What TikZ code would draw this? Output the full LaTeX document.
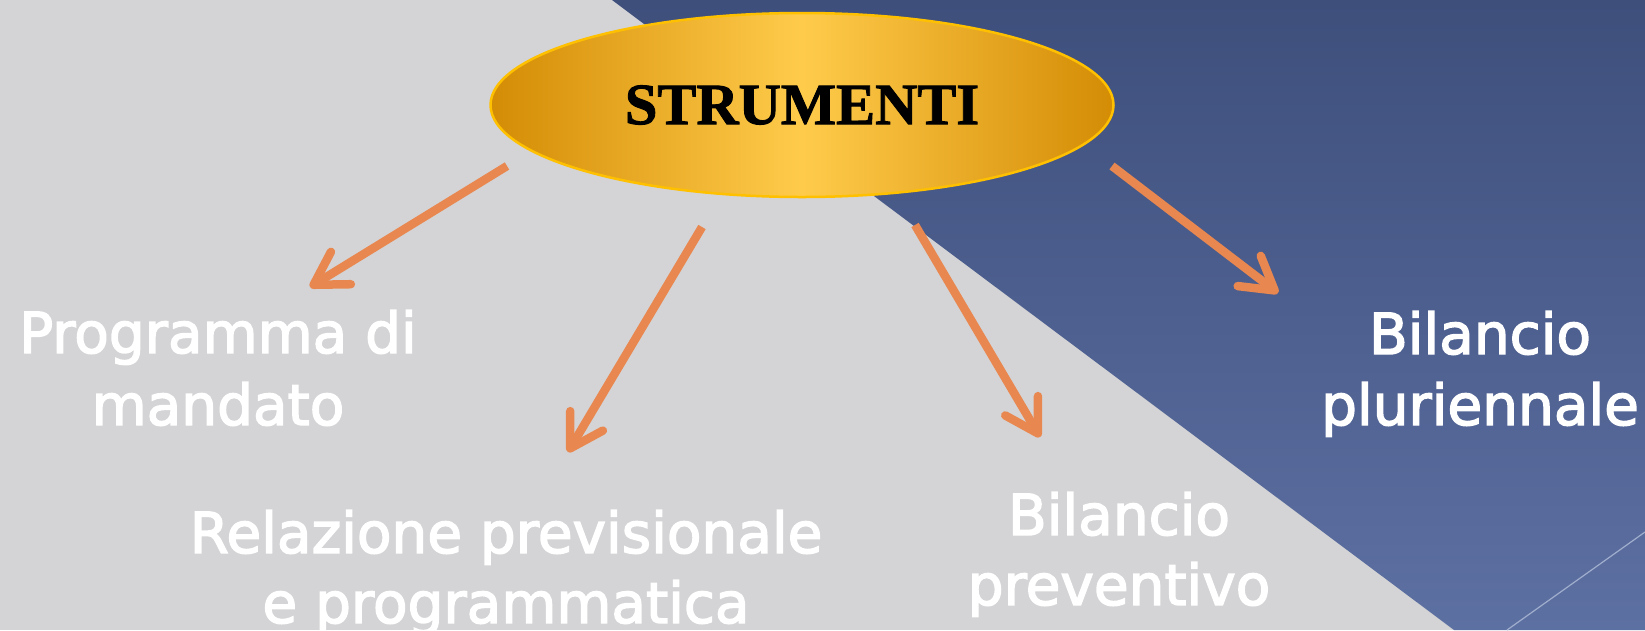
\documentclass[tikz,border=0pt]{standalone}
\usepackage{fontspec}
\setmainfont{DejaVu Sans}
\newfontfamily\lblfont{DejaVu Sans}[FakeBold=2.5]
\newfontfamily\titlefont{Liberation Serif Bold}[FakeBold=1.5]
\usetikzlibrary{shapes.geometric,arrows.meta}
\definecolor{bggray}{RGB}{212,212,214}
\definecolor{bluetop}{RGB}{62,79,124}
\definecolor{bluebot}{RGB}{93,112,162}
\definecolor{arrowor}{RGB}{232,136,80}
\definecolor{golddark}{RGB}{212,140,5}
\definecolor{goldlight}{RGB}{255,203,75}
\definecolor{goldrim}{RGB}{255,192,0}
\definecolor{seam}{RGB}{160,174,205}
\begin{document}
\begin{tikzpicture}[x=1pt,y=-1pt,
  lbl/.style={text=white, font=\lblfont\fontsize{56.5}{68}\selectfont, anchor=base, inner sep=0pt},
  conn/.style={draw=arrowor, line width=8.5pt, -{Straight Barb[round,length=32pt,width=38pt]}}]
\useasboundingbox (0,0) rectangle (1645,630);
\fill[bggray] (0,0) rectangle (1645,630);
\shade[top color=bluetop, bottom color=bluebot] (612,0) -- (1645,0) -- (1645,630) -- (1454,630) -- cycle;
\draw[seam, line width=1.2pt] (1507,630) -- (1645,532);

\node[ellipse, minimum width=623pt, minimum height=184pt, inner sep=0pt,
      draw=goldrim, line width=2.5pt,
      left color=golddark, right color=golddark, middle color=goldlight,
      font=\titlefont\fontsize{58.5}{70}\selectfont, text=black] (str) at (802,105) {STRUMENTI};

\coordinate (a1s) at (507,166); \coordinate (a1e) at (310,287);
\coordinate (a2s) at (702,227); \coordinate (a2e) at (568,452);
\coordinate (a3s) at (915,225); \coordinate (a3e) at (1040,437);
\coordinate (a4s) at (1112,166); \coordinate (a4e) at (1278,293);
\draw[conn] (a1s) -- (a1e);
\draw[conn] (a2s) -- (a2e);
\draw[conn] (a3s) -- (a3e);
\draw[conn] (a4s) -- (a4e);

\node[lbl] (prog1) at (218,353) {Programma di};
\node[lbl] (prog2) at (218,425) {mandato};
\node[lbl] (rel1) at (506,553) {Relazione previsionale};
\node[lbl] (rel2) at (506,623) {e programmatica};
\node[lbl] (prev1) at (1119,535) {Bilancio};
\node[lbl] (prev2) at (1119,605) {preventivo};
\node[lbl] (plur1) at (1480,354) {Bilancio};
\node[lbl] (plur2) at (1480,425) {pluriennale};
\end{tikzpicture}
\end{document}
